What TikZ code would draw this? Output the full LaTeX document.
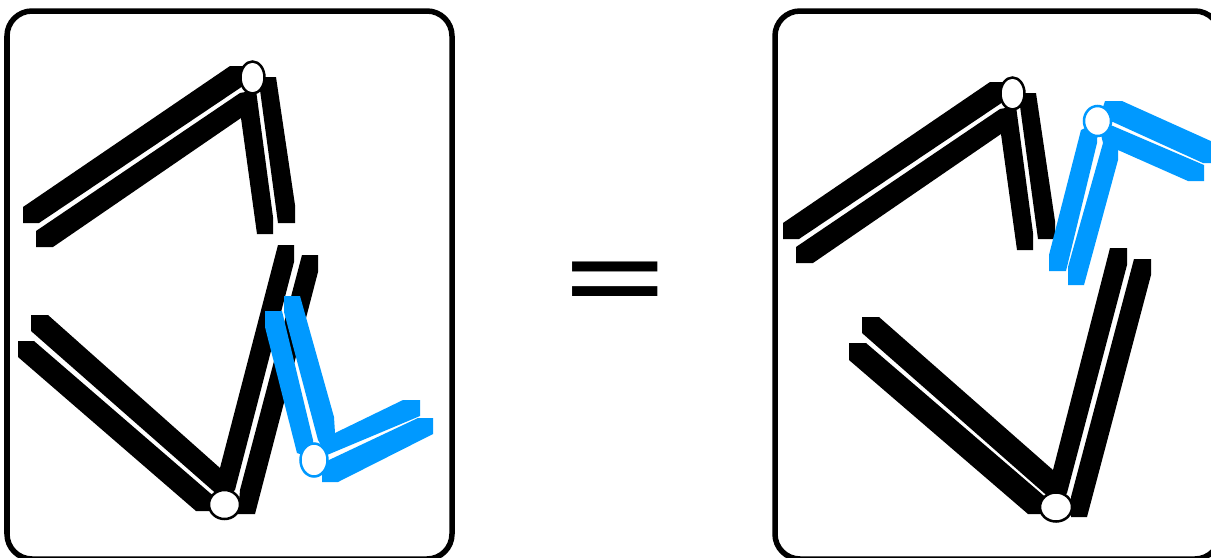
\documentclass[tikz,border=0pt]{standalone}
\usepackage{fontspec}
\usepackage{xcolor}
\usepackage{tikz}
\usetikzlibrary{shapes.geometric}
\newfontfamily\eqfont{Liberation Sans}
\definecolor{LinkBlue}{HTML}{0099FF}

\begin{document}
\begin{tikzpicture}[
  x=0.01cm,y=-0.01cm,
  panel/.style={draw,line width=0.055cm,rounded corners=0.25cm},
  blackbar/.style={fill=black},
  bluebar/.style={fill=LinkBlue},
  joint/.style={draw=#1,fill=white,ellipse,line width=0.025cm,inner sep=0pt,minimum width=0.24cm,minimum height=0.32cm},
  hook/.pic={
    \fill[blackbar] (23,207)--(230,66)--(252,66)--(252,78)--(240,88)--(39,223)--(23,223)--cycle;
    \fill[blackbar] (36,231)--(240,93)--(256,90)--(273,217)--(273,234)--(257,234)--(241,118)--(53,247)--(36,247)--cycle;
    \fill[blackbar] (262,77)--(276,77)--(295,205)--(295,223)--(278,223)--(260,90)--cycle;
  }
]
  \useasboundingbox (0,0) rectangle (1211,557);
  % panels
  \draw[panel] (7,11) rectangle (452,559);
  \draw[panel] (775,11) rectangle (1220,559);
  % left panel
  \pic at (0,0) {hook};
  \node[joint=black] (jointa) at (252.5,77.5) {};
  \fill[blackbar] (31,315)--(48,315)--(220,468)--(278,245)--(294,245)--(294,262)--(235,490)--(224,500)--(212,490)--(31,331)--cycle;
  \fill[blackbar] (18,341)--(34,341)--(210,493)--(224,504)--(224,511)--(196,511)--(18,357)--cycle;
  \fill[blackbar] (302,255)--(318,255)--(318,272)--(255,514)--(238,514)--(240,490)--cycle;
  \node[joint=black,minimum width=0.31cm,minimum height=0.29cm] (jointb) at (224.5,504.5) {};
  \fill[bluebar] (284,296)--(300,296)--(334,417)--(335,433)--(403,400)--(420,400)--(420,416)--(327,455)--(318,440)--(284,312)--cycle;
  \fill[bluebar] (265,311)--(282,311)--(313,440)--(314,459)--(297,453)--(265,327)--cycle;
  \fill[bluebar] (418,418)--(433,418)--(433,434)--(338,482)--(322,482)--(322,465)--(329,460)--cycle;
  \node[joint=LinkBlue,minimum width=0.27cm,minimum height=0.33cm] (jointc) at (314,460) {};
  % equals
  \node[inner sep=0pt] (equals) at (615,286) {\scalebox{1.86}[1]{\fontsize{26}{26}\eqfont\bfseries =}};
  % right panel
  \pic at (760,16) {hook};
  \node[joint=black] (jointd) at (1012.5,93.5) {};
  \fill[blackbar] (862,317)--(879,317)--(1053,470)--(1110,248)--(1127,248)--(1127,265)--(1067,493)--(1057,505)--(1044,493)--(862,333)--cycle;
  \fill[blackbar] (849,343)--(866,343)--(1043,495)--(1057,505)--(1057,514)--(1028,514)--(849,360)--cycle;
  \fill[blackbar] (1134,259)--(1151,259)--(1151,275)--(1087,517)--(1071,517)--(1071,497)--cycle;
  \node[joint=black,minimum width=0.32cm,minimum height=0.29cm] (jointe) at (1056,507) {};
  \fill[bluebar] (1105,101)--(1122,101)--(1213,142)--(1213,163)--(1203,163)--(1113,122)--(1098,122)--cycle;
  \fill[bluebar] (1113,126)--(1204,165)--(1204,181)--(1188,181)--(1118,150)--(1118,160)--(1084,285)--(1068,285)--(1068,267)--(1103,143)--(1098,122)--cycle;
  \fill[bluebar] (1081,130)--(1098,122)--(1097,143)--(1066,271)--(1049,271)--(1049,255)--cycle;
  \node[joint=LinkBlue,minimum width=0.27cm,minimum height=0.30cm] (jointf) at (1097.5,121) {};
\end{tikzpicture}
\end{document}
